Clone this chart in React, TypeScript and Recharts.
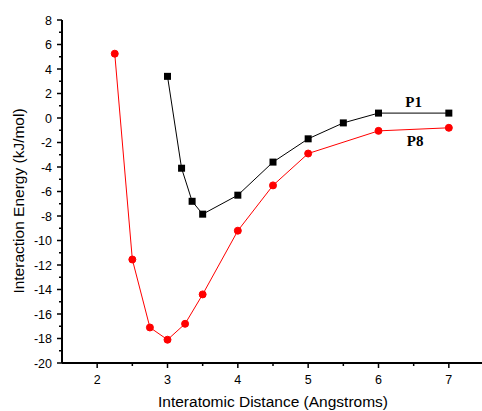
import { Label, Line, LineChart, ReferenceDot, XAxis, YAxis } from 'recharts';

// P1 curve (black squares)
const p1Dist = [3.0, 3.2, 3.35, 3.5, 4.0, 4.5, 5.0, 5.5, 6.0, 7.0];
const p1Energy = [3.4, -4.1, -6.8, -7.85, -6.3, -3.6, -1.7, -0.4, 0.4, 0.4];

// P8 curve (red circles)
const p8Dist = [2.25, 2.5, 2.75, 3.0, 3.25, 3.5, 4.0, 4.5, 5.0, 6.0, 7.0];
const p8Energy = [5.25, -11.55, -17.1, -18.1, -16.8, -14.4, -9.2, -5.5, -2.9, -1.05, -0.8];

const xTicks = [2, 2.5, 3, 3.5, 4, 4.5, 5, 5.5, 6, 6.5, 7, 7.5];
const yTicks = [-20, -19, -18, -17, -16, -15, -14, -13, -12, -11, -10, -9, -8, -7, -6, -5, -4, -3, -2, -1, 0, 1, 2, 3, 4, 5, 6, 7, 8];

const p1 = p1Dist.map((d, i) => ({ d, e: p1Energy[i] }));
const p8 = p8Dist.map((d, i) => ({ d, e: p8Energy[i] }));

const font = '"Liberation Sans", Arial, sans-serif';

const XTick = (props: any) => {
  const { x, y, payload } = props;
  const major = Number.isInteger(payload.value);
  return (
    <g>
      <line x1={x} y1={y} x2={x} y2={y + (major ? 5 : 3)} stroke="#000" strokeWidth={1.5} />
      {major && (
        <text x={x} y={y + 21} textAnchor="middle" fontSize={12.5} fontFamily={font} fill="#000">
          {payload.value}
        </text>
      )}
    </g>
  );
};

const YTick = (props: any) => {
  const { x, y, payload } = props;
  const major = payload.value % 2 === 0;
  return (
    <g>
      <line x1={x - (major ? 5 : 3)} y1={y} x2={x} y2={y} stroke="#000" strokeWidth={1.5} />
      {major && (
        <text x={x - 10} y={y + 4.5} textAnchor="end" fontSize={12.5} fontFamily={font} fill="#000">
          {payload.value}
        </text>
      )}
    </g>
  );
};

const SquareDot = (props: any) => {
  const { cx, cy } = props;
  return <rect x={cx - 3.5} y={cy - 3.5} width={7} height={7} fill="#000" />;
};

export default function App() {
  return (
    <div style={{ position: 'absolute', left: 0, top: 0, width: 482, height: 411, overflow: 'hidden', background: '#fff' }}>
      <LineChart width={490} height={411} margin={{ top: 20, right: 6, bottom: 0, left: 0 }}>
        <XAxis
          dataKey="d"
          type="number"
          domain={[1.5, 7.5]}
          ticks={xTicks}
          interval={0}
          allowDataOverflow
          height={48}
          tickSize={0}
          tickMargin={0}
          tickLine={false}
          tick={<XTick />}
          axisLine={{ stroke: '#000', strokeWidth: 2 }}
        >
          <Label
            content={() => (
              <text x={273} y={407} textAnchor="middle" fontSize={15.5} fontFamily={font} fill="#000">
                Interatomic Distance (Angstroms)
              </text>
            )}
          />
        </XAxis>
        <YAxis
          type="number"
          domain={[-20, 8]}
          ticks={yTicks}
          interval={0}
          allowDataOverflow
          width={62}
          tickSize={0}
          tickMargin={0}
          tickLine={false}
          tick={<YTick />}
          axisLine={{ stroke: '#000', strokeWidth: 2 }}
        >
          <Label
            content={() => (
              <text
                x={18}
                y={201}
                textAnchor="middle"
                dominantBaseline="central"
                transform="rotate(-90, 18, 201)"
                fontSize={15.5}
                fontFamily={font}
                fill="#000"
              >
                Interaction Energy (kJ/mol)
              </text>
            )}
          />
        </YAxis>
        <Line
          data={p1}
          dataKey="e"
          type="linear"
          stroke="#000"
          strokeWidth={1}
          dot={<SquareDot />}
          activeDot={false}
          isAnimationActive={false}
        />
        <Line
          data={p8}
          dataKey="e"
          type="linear"
          stroke="#ff0000"
          strokeWidth={1}
          dot={{ r: 3.5, fill: '#ff0000', stroke: '#ff0000', strokeWidth: 1 }}
          activeDot={false}
          isAnimationActive={false}
        />
        <ReferenceDot
          x={6.5}
          y={1.36}
          r={1}
          fill="none"
          stroke="none"
          label={{ value: 'P1', position: 'center', fontSize: 15, fontWeight: 'bold', fontFamily: '"Liberation Serif", "Times New Roman", serif', fill: '#000' }}
        />
        <ReferenceDot
          x={6.52}
          y={-1.88}
          r={1}
          fill="none"
          stroke="none"
          label={{ value: 'P8', position: 'center', fontSize: 15, fontWeight: 'bold', fontFamily: '"Liberation Serif", "Times New Roman", serif', fill: '#000' }}
        />
      </LineChart>
    </div>
  );
}
